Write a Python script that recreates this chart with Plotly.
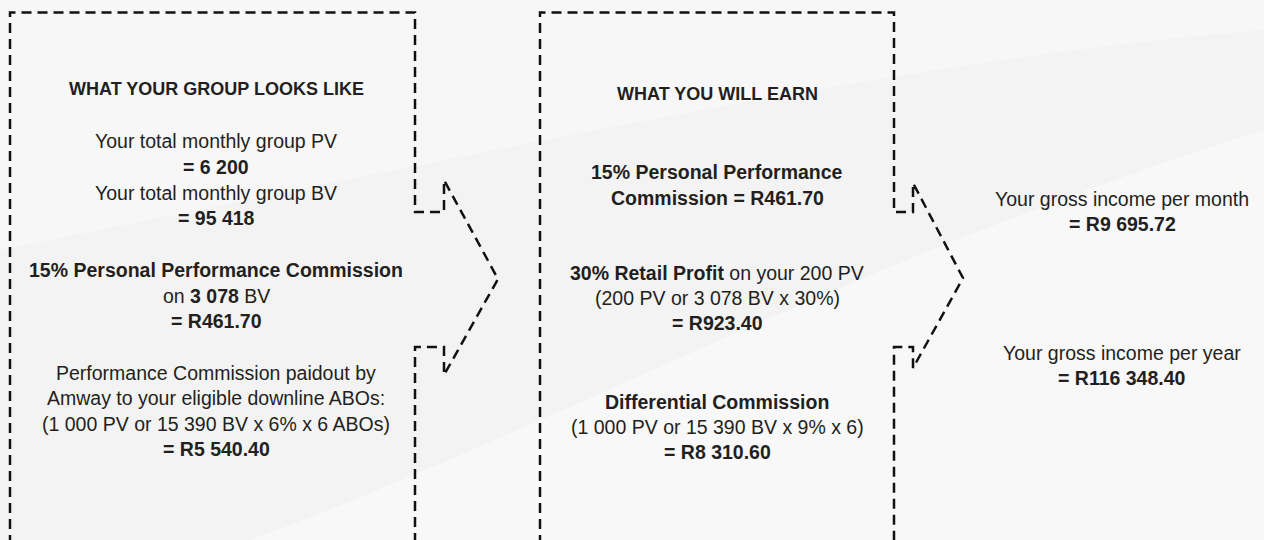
import plotly.graph_objects as go

W, H = 1264, 540

# ---- content -------------------------------------------------------------
group_title = "WHAT YOUR GROUP LOOKS LIKE"
group_pv = "6 200"
group_bv = "95 418"
personal_rate = "15%"
personal_bv = "3 078"
personal_comm = "R461.70"
downline_pv = "1 000"
downline_bv = "15 390"
downline_rate = "6%"
downline_abos = "6"
downline_paid = "R5 540.40"

earn_title = "WHAT YOU WILL EARN"
retail_rate = "30%"
retail_pv = "200"
retail_profit = "R923.40"
diff_rate = "9%"
diff_comm = "R8 310.60"

income_month = "R9 695.72"
income_year = "R116 348.40"

col1_lines = [
    f"Your total monthly group PV",
    f"<b>= {group_pv}</b>",
    f"Your total monthly group BV",
    f"<b>= {group_bv}</b>",
    f"<b>{personal_rate} Personal Performance Commission</b>",
    f"on <b>{personal_bv}</b> BV",
    f"<b>= {personal_comm}</b>",
    f"Performance Commission paidout by",
    f"Amway to your eligible downline ABOs:",
    f"({downline_pv} PV or {downline_bv} BV x {downline_rate} x {downline_abos} ABOs)",
    f"<b>= {downline_paid}</b>",
]
col2_lines = [
    f"<b>{personal_rate} Personal Performance</b>",
    f"<b>Commission = {personal_comm}</b>",
    f"<b>{retail_rate} Retail Profit</b> on your {retail_pv} PV",
    f"({retail_pv} PV or {personal_bv} BV x {retail_rate})",
    f"<b>= {retail_profit}</b>",
    f"<b>Differential Commission</b>",
    f"({downline_pv} PV or {downline_bv} BV x {diff_rate} x {downline_abos})",
    f"<b>= {diff_comm}</b>",
]
col3_lines = [
    "Your gross income per month",
    f"<b>= {income_month}</b>",
    "Your gross income per year",
    f"<b>= {income_year}</b>",
]

# ---- layout positions (pixels) --------------------------------------------
col1_x, col2_x, col3_x = 216, 717, 1122
col1_title_y, col2_title_y = 89, 94
col1_y = [141, 167, 193, 218, 270, 296, 321, 373, 398, 424, 449]
col2_y = [172, 198, 273, 298, 323, 402, 427, 452]
col3_y = [199, 224, 353, 378]

# outline paths (x, y) in pixels
box1 = [(10, 545), (10, 12.5), (415, 12.5), (415, 212), (444, 212), (444, 180),
        (498, 279), (444, 375), (444, 347), (415, 347), (415, 545)]
box2 = [(540, 545), (540, 12.5), (894, 12.5), (894, 212), (913, 212), (913, 183),
        (963, 278), (913, 368), (913, 347), (894, 347), (894, 545)]

INK = "#231f20"
FONT = "Liberation Sans"

fig = go.Figure()

for path in (box1, box2):
    fig.add_trace(go.Scatter(
        x=[p[0] for p in path], y=[p[1] for p in path], mode="lines",
        line=dict(color="#111111", width=2.5, dash="10px,6px"),
        hoverinfo="skip", showlegend=False))

ann = []
def add(text, x, y, size=19.5):
    ann.append(dict(text=text, x=x, y=y, xref="x", yref="y", showarrow=False,
                    xanchor="center", yanchor="middle",
                    font=dict(family=FONT, size=size, color=INK)))

add(f"<b>{group_title}</b>", col1_x, col1_title_y, 18)
add(f"<b>{earn_title}</b>", col2_x, col2_title_y, 18)
for t, y in zip(col1_lines, col1_y):
    add(t, col1_x, y)
for t, y in zip(col2_lines, col2_y):
    add(t, col2_x, y)
for t, y in zip(col3_lines, col3_y):
    add(t, col3_x, y)

# soft background swooshes
bg_shapes = [
    dict(type="path", xref="x", yref="y", layer="below",
         path="M 250 540 C 550 430, 850 260, 1264 130 L 1264 540 Z",
         fillcolor="rgba(255,255,255,0.45)", line=dict(width=0)),
    dict(type="path", xref="x", yref="y", layer="below",
         path="M 0 0 L 1264 0 L 1264 30 C 900 60, 500 150, 0 250 Z",
         fillcolor="rgba(255,255,255,0.35)", line=dict(width=0)),
]

fig.update_layout(
    width=W, height=H,
    margin=dict(l=0, r=0, t=0, b=0),
    paper_bgcolor="#f3f3f3", plot_bgcolor="rgba(0,0,0,0)",
    xaxis=dict(range=[0, W], visible=False, fixedrange=True),
    yaxis=dict(range=[H, 0], visible=False, fixedrange=True),
    annotations=ann, shapes=bg_shapes,
)

fig.write_html(
    "out.html",
    config={"displayModeBar": False},
    post_script="document.body.style.margin='0';document.body.style.overflow='hidden';",
)
